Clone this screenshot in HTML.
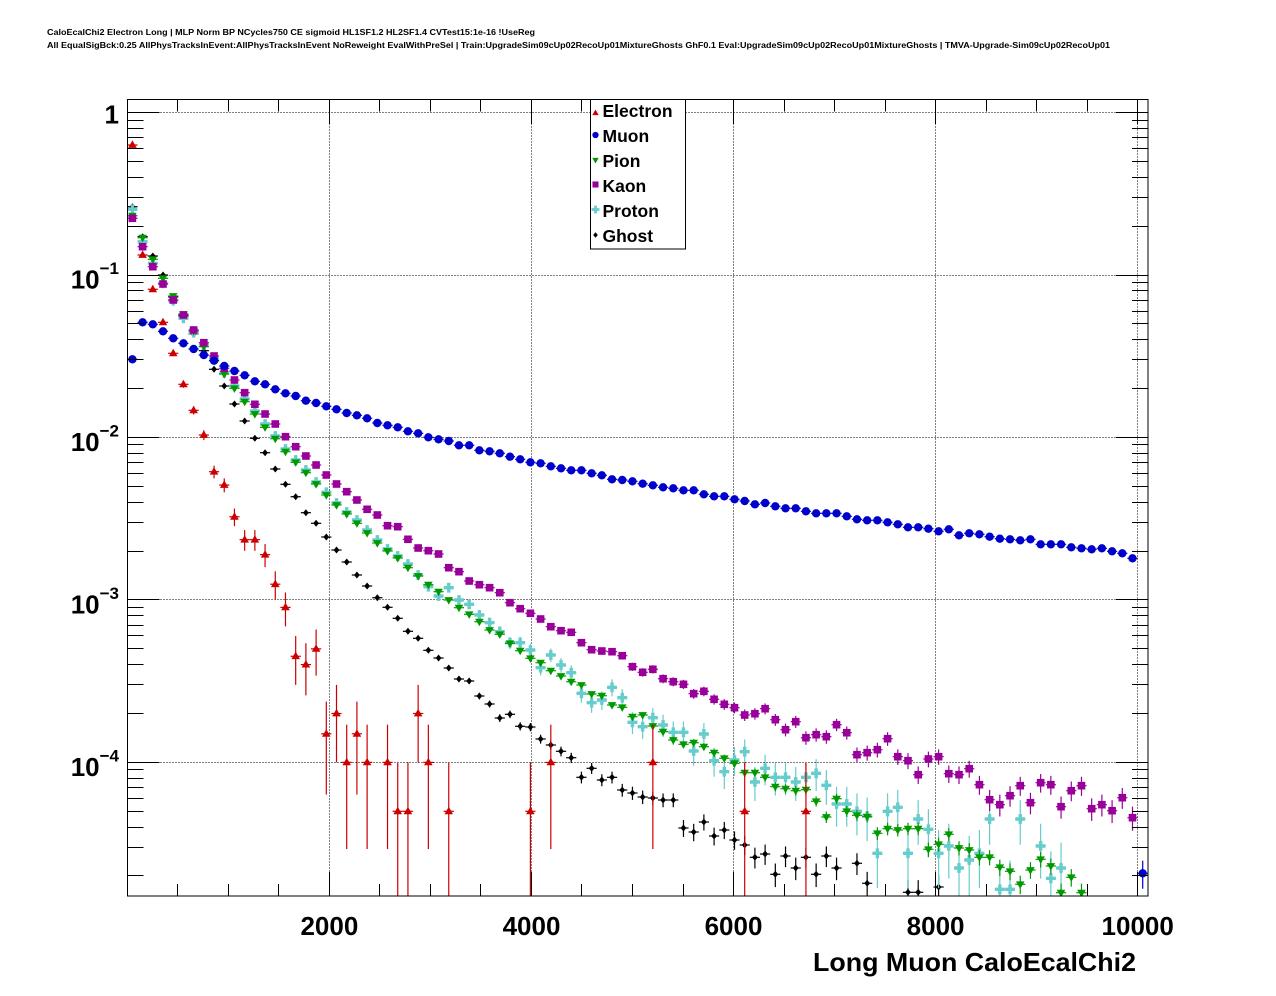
<!DOCTYPE html>
<html><head><meta charset="utf-8">
<style>
html,body{margin:0;padding:0;background:#fff;}
svg{display:block;}
text{font-family:"Liberation Sans",Arial,Helvetica,sans-serif;font-weight:bold;fill:#000;}
</style></head>
<body>
<svg id="c" xmlns="http://www.w3.org/2000/svg" width="1276" height="996" viewBox="0 0 1276 996">
<defs><clipPath id="fr"><rect x="127.5" y="99.5" width="1020.5" height="796.5"/></clipPath></defs>
<rect width="1276" height="996" fill="#fff"/>
<text x="47" y="35" font-size="8" textLength="488" lengthAdjust="spacingAndGlyphs">CaloEcalChi2 Electron Long | MLP Norm BP NCycles750 CE sigmoid HL1SF1.2 HL2SF1.4 CVTest15:1e-16 !UseReg</text>
<text x="47" y="48" font-size="8" textLength="1063" lengthAdjust="spacingAndGlyphs">All EqualSigBck:0.25 AllPhysTracksInEvent:AllPhysTracksInEvent NoReweight EvalWithPreSel | Train:UpgradeSim09cUp02RecoUp01MixtureGhosts GhF0.1 Eval:UpgradeSim09cUp02RecoUp01MixtureGhosts | TMVA-Upgrade-Sim09cUp02RecoUp01</text>
<rect x="127.5" y="99.5" width="1020.5" height="796.5" fill="#fff"/>
<g id="grid"></g>
<g id="data" clip-path="url(#fr)"></g>
<g id="axes"></g>

<text x="119" y="123.5" font-size="26" text-anchor="end">1</text>
<text x="119" y="288.5" font-size="26" text-anchor="end">10<tspan font-size="17" dy="-14.5">−1</tspan></text>
<text x="119" y="451" font-size="26" text-anchor="end">10<tspan font-size="17" dy="-14.5">−2</tspan></text>
<text x="119" y="613.5" font-size="26" text-anchor="end">10<tspan font-size="17" dy="-14.5">−3</tspan></text>
<text x="119" y="776" font-size="26" text-anchor="end">10<tspan font-size="17" dy="-14.5">−4</tspan></text>

<text x="329.4" y="935" font-size="26" text-anchor="middle">2000</text>
<text x="531.5" y="935" font-size="26" text-anchor="middle">4000</text>
<text x="733.5" y="935" font-size="26" text-anchor="middle">6000</text>
<text x="935.6" y="935" font-size="26" text-anchor="middle">8000</text>
<text x="1137.7" y="935" font-size="26" text-anchor="middle">10000</text>

<text x="1136" y="971" font-size="26" text-anchor="end" textLength="323" lengthAdjust="spacingAndGlyphs">Long Muon CaloEcalChi2</text>

<g id="legend">
<rect x="590.5" y="99.5" width="95" height="149.5" fill="#fff" stroke="#000" stroke-width="1"/>
<text x="602.5" y="117" font-size="17.5">Electron</text>
<text x="602.5" y="142" font-size="17.5">Muon</text>
<text x="602.5" y="167" font-size="17.5">Pion</text>
<text x="602.5" y="192" font-size="17.5">Kaon</text>
<text x="602.5" y="217" font-size="17.5">Proton</text>
<text x="602.5" y="242" font-size="17.5">Ghost</text>
</g>
</svg>
<script>
(function(){
const NS='http://www.w3.org/2000/svg';
function el(tag,attrs,parent){const e=document.createElementNS(NS,tag);for(const k in attrs)e.setAttribute(k,attrs[k]);parent.appendChild(e);return e;}
const L=127.5,R=1148,T=99.5,B=896;
const X0=127.3,XS=0.10104;
const xpx=u=>X0+XS*u;
const ypx=v=>112.6-162.45*Math.log10(v);
const vy=y=>Math.pow(10,(112.6-y)/162.45);
const bx=i=>X0+XS*(50.5+101*i);

const grid=document.getElementById('grid');
for(let u=2000;u<=10000;u+=2000){const x=Math.floor(xpx(u))+0.5;el('line',{x1:x,x2:x,y1:T,y2:B,stroke:'#000','stroke-width':1,'stroke-dasharray':'1,2'},grid);}
for(let d=0;d>=-4;d--){const y=Math.floor(ypx(Math.pow(10,d)))+0.5;el('line',{x1:L,x2:R,y1:y,y2:y,stroke:'#000','stroke-width':1,'stroke-dasharray':'1,2'},grid);}

const axes=document.getElementById('axes');
el('rect',{x:L,y:T,width:R-L,height:B-T,fill:'none',stroke:'#000','stroke-width':1},axes);
for(let u=500;u<=10000;u+=500){
  const x=Math.floor(xpx(u))+0.5;const len=(u%2000===0)?24:12;
  el('line',{x1:x,x2:x,y1:B,y2:B-len,stroke:'#000','stroke-width':1},axes);
  el('line',{x1:x,x2:x,y1:T,y2:T+len,stroke:'#000','stroke-width':1},axes);
}
for(let d=0;d>=-5;d--){for(let m=1;m<=9;m++){
  const v=m*Math.pow(10,d);if(v<1.52e-5||v>1.2)continue;
  const y=Math.floor(ypx(v))+0.5;const len=(m===1)?32:16;
  el('line',{x1:L,x2:L+len,y1:y,y2:y,stroke:'#000','stroke-width':1},axes);
  el('line',{x1:R,x2:R-len,y1:y,y2:y,stroke:'#000','stroke-width':1},axes);
}}

function marker(shape,x,y,c,g,sz){sz=sz||1;
 switch(shape){
 case 'tu': el('polygon',{points:`${x},${y-4.6*sz} ${x-4.3*sz},${y+2.9*sz} ${x+4.3*sz},${y+2.9*sz}`,fill:c},g);break;
 case 'td': el('polygon',{points:`${x-4.3*sz},${y-2.9*sz} ${x+4.3*sz},${y-2.9*sz} ${x},${y+4.6*sz}`,fill:c},g);break;
 case 'ci': el('circle',{cx:x,cy:y,r:4.2*sz,fill:c},g);break;
 case 'sq': el('rect',{x:x-3.8*sz,y:y-3.8*sz,width:7.6*sz,height:7.6*sz,fill:c},g);break;
 case 'cr': {const a=4.9*sz,b=1.7*sz;el('polygon',{points:`${x-b},${y-a} ${x+b},${y-a} ${x+b},${y-b} ${x+a},${y-b} ${x+a},${y+b} ${x+b},${y+b} ${x+b},${y+a} ${x-b},${y+a} ${x-b},${y+b} ${x-a},${y+b} ${x-a},${y-b} ${x-b},${y-b}`,fill:c},g);break;}
 case 'di': el('polygon',{points:`${x},${y-3.5*sz} ${x+2.9*sz},${y} ${x},${y+3.5*sz} ${x-2.9*sz},${y}`,fill:c},g);break;
 }
}

const n=null;
const muon=[359.3,322.3,324.3,331.3,338.3,343.3,349,355,360.7,366,
371,375.3,381.3,384.3,389.3,393.3,396,400.7,403,406.3,
409.3,413,415.3,418.3,423,425.3,427.3,431.3,433.3,437.3,
439.3,441,445.3,445.3,450.3,451.3,453.3,456.7,459.3,462.3,
463.3,466.3,468.3,470.3,470.3,473.3,475.3,479.3,480,481.3,
483.7,485.3,487.3,488.3,490.3,490.3,494.3,496.3,496.3,499.3,
501,504.3,503,506.3,508.3,508.3,511.3,513.3,513.3,513.3,
516.3,519.3,520.3,520.3,522.3,524.3,527.3,527.3,528.7,531.3,
529.3,535.3,533.3,534.3,536.7,538.7,539.3,540.3,539.3,544.3,
544.3,544.3,547.3,548.3,549.3,548.3,551.3,553.3,558.3,873.3];
const elec=new Array(100).fill(null);
[145,255,289.3,322.3,353.3,384.3,410.3,435,471.7,485,
516.7,539,539,555,584,609,654.3,663.3,647.3,732.7,
711.3,760.7,732.7,760.7,n,760.7,809.7,809.7,711.3,760.7,
n,809.7].forEach((v,i)=>elec[i]=v);
elec[39]=809.7;elec[41]=760.7;elec[51]=760.7;elec[60]=809.7;elec[66]=809.7;
const kaon=[218.3,246.7,266.7,284,300,315,330,342.7,356,368.3,
380,392.7,404.3,414,424,436.7,446.7,456,465,475,
484,491.7,500,509.3,515,525.7,526.7,539.3,548,550.7,
554,567.7,571.7,581,584.7,587.7,592.7,602.7,608.7,613.3,
619,626.7,630.7,632.3,642.7,649.7,651,651.7,655.7,666.7,
672.3,669.3,678.7,681.7,684.3,693.7,691.3,699.3,704.3,707.7,
715,713.7,708.7,719.7,729.7,721.7,737.7,734.7,736.7,724.7,
732.7,754.7,752.7,749.7,738.7,756.7,760.7,774.7,759,756.7,
773.7,774.7,768.7,784.7,799.7,804.7,795.7,785.7,802.7,782.7,
784.7,806.7,790.7,785.7,808.7,804.7,810.7,797.7,817.7,n];
const pion=[215.7,237.7,259.3,278.3,296,314,331,346.7,360.7,374,
388.3,401.7,414,427.3,438.7,451.7,462.3,472.7,484,495,
505,514,523.3,533,543,551,558,567.7,576,584.7,
591.7,600,607.7,614.3,621.7,630,634.3,643.3,650.7,658.3,
662.7,670.7,676,681.7,685,694,695.7,705,707.3,716.7,
715,726,731.7,740,744.3,742.7,746.7,752.7,758.3,763.3,
772.7,772.7,777.3,786.7,788.7,790.7,789.7,801.3,817,798.7,
811.3,815.3,816.7,833.3,828.7,830,828.7,828.7,849.3,844.3,
834.3,848,850,857.3,857.3,867.3,871.3,884.3,870,859.3,
866,892.7,877.3,892.7,n,n,n,n,n,n];
const prot=[209.3,241.7,263.3,283.3,300.7,318.3,332.7,345,359,373,
386,399,411,424,436,449,460,470,482,492.3,
503,512,520,530,540,549,556,564,575,586.7,
596,587.7,600,604.3,615,622.7,631.7,642.7,642.7,650,
667.7,655,665,672.7,693.3,702.7,700,687.3,697.7,722.3,
726.7,717.7,725,732.3,732.3,751,734,760.7,771.7,760,
751.7,782,768.3,777.3,777.3,782,777.3,773.3,785.3,804,
804,811.3,816,853.3,811.3,807.3,853.3,819,829.3,853.3,
846,868,860,853.3,819,889.3,889.3,819,n,846,
878.3,868,n,n,n,n,n,n,n,n];
const ghost=[206.7,236.7,256,275,297,316,334,350.7,369.3,386,
404,421,438.3,452.7,469,484.3,496.7,512.7,523.3,537,
550,562,575,586,597.7,607.3,618.3,631.3,638.3,650.3,
658,668,679,681,696,704,718,714.3,726.3,727,
739,745,751.3,757.7,777.3,768.3,780,777.3,790,793,
797,798,800,800,828,832,822,836,830,840,
845,857.3,854,874.3,856,868,857.3,874.3,856,868,
n,863.3,883.3,n,n,n,892.3,892.3,n,887,
n,n,n,n,n,n,n,n,n,n,
n,n,n,n,n,n,n,n,n,n];

const series=[
 {y:ghost,c:'#000000',s:5.6e-7,sh:'di'},
 {y:prot,c:'#66cccc',s:4.2e-6,sh:'cr'},
 {y:pion,c:'#009900',s:3e-7,sh:'td'},
 {y:kaon,c:'#990099',s:1.3e-6,sh:'sq'},
 {y:muon,c:'#0000cc',s:8e-7,sh:'ci'},
 {y:elec,c:'#cc0000',s:5e-5,sh:'tu',snap:true}
];
const data=document.getElementById('data');
series.forEach(S=>{
  const g=el('g',{},data);
  for(let i=0;i<100;i++){
    const yy=S.y[i];if(yy==null)continue;
    let v=vy(yy);
    if(S.snap){const N=Math.max(1,Math.round(v/5e-5));if(v<5e-3)v=N*5e-5;}
    const err=Math.sqrt(v*S.s);
    const yc=ypx(v);
    const yt=ypx(v+err);
    const yb=(v-err>1e-9)?Math.min(ypx(v-err),B+10):B+10;
    const x=bx(i);
    el('line',{x1:x,x2:x,y1:yt,y2:yb,stroke:S.c,'stroke-width':1.2},g);
    el('line',{x1:x-5.1,x2:x+5.1,y1:yc,y2:yc,stroke:S.c,'stroke-width':1.2},g);
    marker(S.sh,x,yc,S.c,g,1);
  }
});

const lg=document.getElementById('legend');
marker('tu',595.5,113,'#cc0000',lg,0.75);
marker('ci',595.5,135,'#0000cc',lg,0.75);
marker('td',595.5,160,'#009900',lg,0.75);
marker('sq',595.5,184.5,'#990099',lg,0.8);
marker('cr',595.5,209.5,'#66cccc',lg,0.8);
marker('di',595.5,235,'#000000',lg,0.8);
})();
</script>
</body></html>
